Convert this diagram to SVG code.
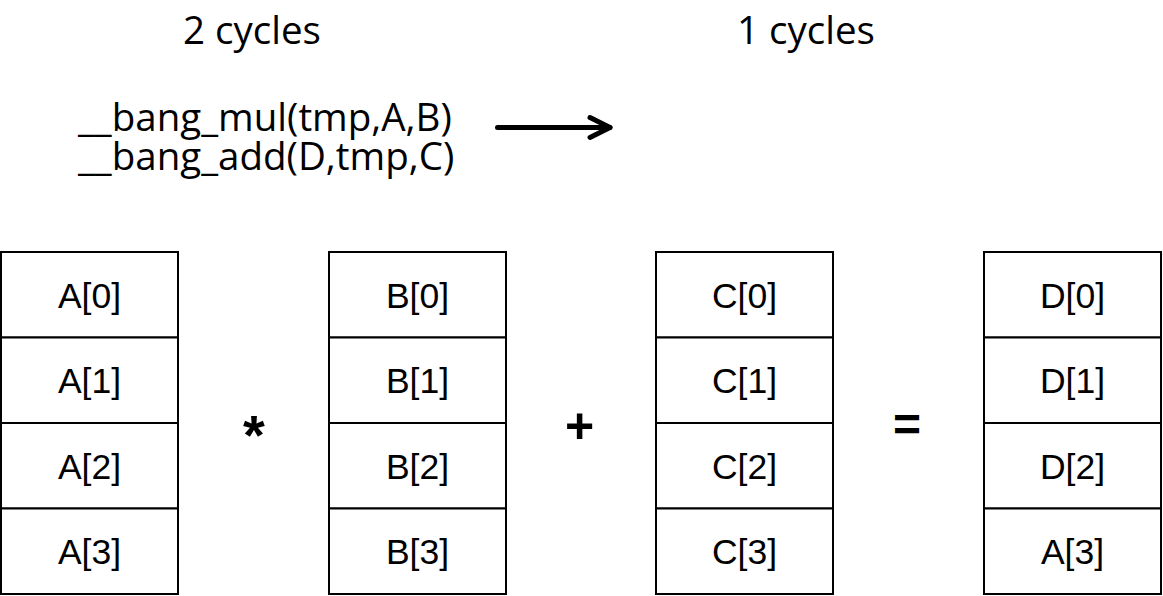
<svg xmlns="http://www.w3.org/2000/svg" width="1163" height="596" viewBox="0 0 1163 596">
<style>
.hdr{font-family:"Open Sans","Noto Sans",sans-serif;font-size:38.5px;fill:#000}
.cell{fill:#fff;stroke:#000;stroke-width:2}
.lbl{font-family:"Liberation Sans",Arial,sans-serif;font-size:35.5px;fill:#000;text-anchor:middle}
.op{font-family:"Liberation Sans",Arial,sans-serif;font-weight:bold;fill:#000;text-anchor:middle}
</style>
<defs>
<marker id="ah" viewBox="-24 -14 28 28" refX="0" refY="0" markerWidth="28" markerHeight="28" markerUnits="userSpaceOnUse" orient="auto">
<path d="M-20,-10 L0,0 L-20,10" fill="none" stroke="#000" stroke-width="5" stroke-linecap="round" stroke-linejoin="round"/>
</marker>
</defs>
<rect width="1163" height="596" fill="#fff"/>
<g id="title-2cycles"><text class="hdr" x="183" y="44">2 cycles</text></g>
<g id="title-1cycles"><text class="hdr" x="737" y="44">1 cycles</text></g>
<g id="code">
<text class="hdr" x="78" y="131">__bang_mul(tmp,A,B)</text>
<text class="hdr" x="78" y="170">__bang_add(D,tmp,C)</text>
</g>
<g id="connectors">
<line x1="497.5" y1="127.5" x2="610" y2="127.5" stroke="#000" stroke-width="5" stroke-linecap="round" marker-end="url(#ah)"/>
</g>
<g id="A">
<rect class="cell" x="1" y="252" width="177" height="85.5"/>
<rect class="cell" x="1" y="337.5" width="177" height="85.5"/>
<rect class="cell" x="1" y="423" width="177" height="85.5"/>
<rect class="cell" x="1" y="508.5" width="177" height="85.5"/>
<text class="lbl" x="89.5" y="307.5">A[0]</text>
<text class="lbl" x="89.5" y="393">A[1]</text>
<text class="lbl" x="89.5" y="478.5">A[2]</text>
<text class="lbl" x="89.5" y="564">A[3]</text>
</g>
<g id="op-mul"><text class="op" x="254" y="454" font-size="56">*</text></g>
<g id="B">
<rect class="cell" x="329" y="252" width="177" height="85.5"/>
<rect class="cell" x="329" y="337.5" width="177" height="85.5"/>
<rect class="cell" x="329" y="423" width="177" height="85.5"/>
<rect class="cell" x="329" y="508.5" width="177" height="85.5"/>
<text class="lbl" x="417.5" y="307.5">B[0]</text>
<text class="lbl" x="417.5" y="393">B[1]</text>
<text class="lbl" x="417.5" y="478.5">B[2]</text>
<text class="lbl" x="417.5" y="564">B[3]</text>
</g>
<g id="op-add"><text class="op" x="579.5" y="442.5" font-size="50">+</text></g>
<g id="C">
<rect class="cell" x="656" y="252" width="177" height="85.5"/>
<rect class="cell" x="656" y="337.5" width="177" height="85.5"/>
<rect class="cell" x="656" y="423" width="177" height="85.5"/>
<rect class="cell" x="656" y="508.5" width="177" height="85.5"/>
<text class="lbl" x="744.5" y="307.5">C[0]</text>
<text class="lbl" x="744.5" y="393">C[1]</text>
<text class="lbl" x="744.5" y="478.5">C[2]</text>
<text class="lbl" x="744.5" y="564">C[3]</text>
</g>
<g id="op-eq"><text class="op" x="907" y="441" font-size="48">=</text></g>
<g id="D">
<rect class="cell" x="984" y="252" width="177" height="85.5"/>
<rect class="cell" x="984" y="337.5" width="177" height="85.5"/>
<rect class="cell" x="984" y="423" width="177" height="85.5"/>
<rect class="cell" x="984" y="508.5" width="177" height="85.5"/>
<text class="lbl" x="1072.5" y="307.5">D[0]</text>
<text class="lbl" x="1072.5" y="393">D[1]</text>
<text class="lbl" x="1072.5" y="478.5">D[2]</text>
<text class="lbl" x="1072.5" y="564">A[3]</text>
</g>
</svg>
